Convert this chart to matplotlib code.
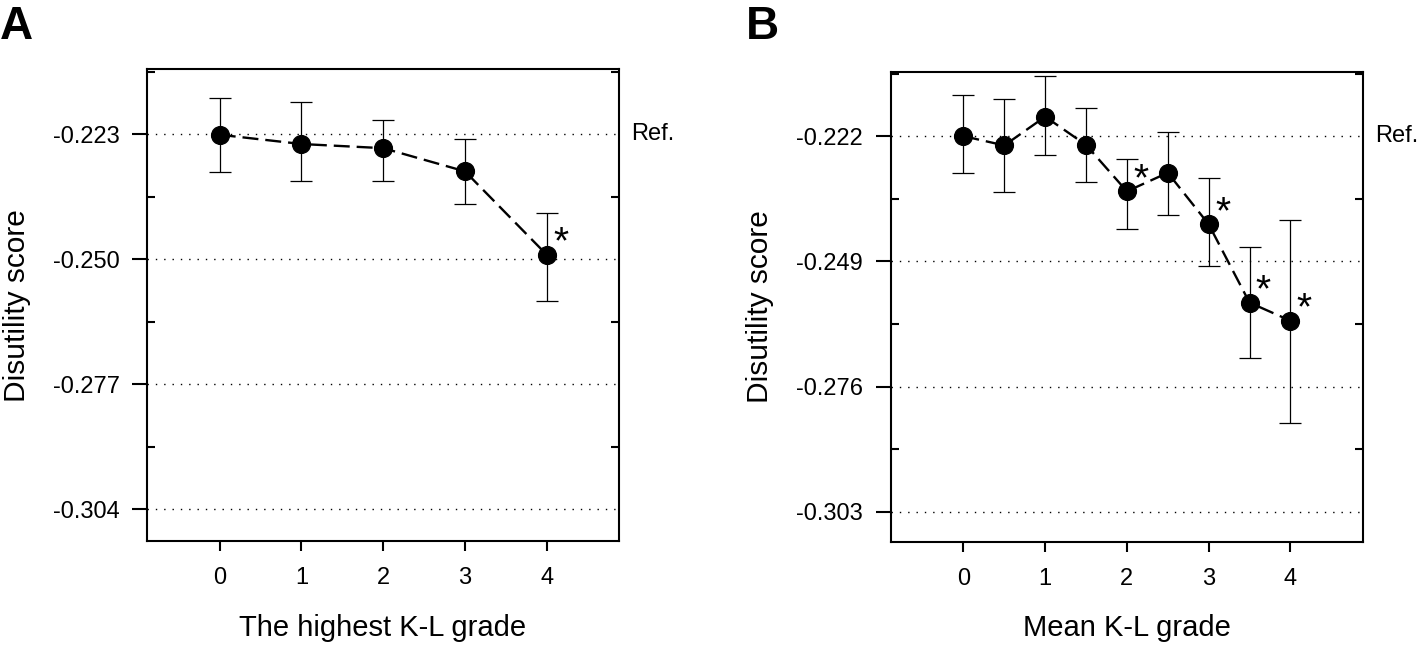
import matplotlib
matplotlib.use("Agg")
import matplotlib.pyplot as plt
from matplotlib import transforms
from matplotlib.ticker import FixedLocator

plt.rcParams['font.family'] = ['Liberation Sans', 'DejaVu Sans']
plt.rcParams['lines.scale_dashes'] = False

# ---------------- data ----------------
a_x = [0, 1, 2, 3, 4]
a_mean = [-0.2231, -0.2251, -0.2260, -0.2310, -0.2490]
a_lo = [-0.2311, -0.2331, -0.2331, -0.2381, -0.2589]
a_hi = [-0.2152, -0.2161, -0.2200, -0.2240, -0.2400]
a_sig = [False, False, False, False, True]
a_yticks = [-0.223, -0.250, -0.277, -0.304]
a_yticklabels = ["-0.223", "-0.250", "-0.277", "-0.304"]
a_yminor = [-0.2095, -0.2365, -0.2635, -0.2905]

b_x = [0, 0.5, 1, 1.5, 2, 2.5, 3, 3.5, 4]
b_mean = [-0.2220, -0.2240, -0.2178, -0.2239, -0.2339, -0.2299, -0.2410, -0.2579, -0.2618]
b_lo = [-0.2300, -0.2341, -0.2260, -0.2319, -0.2420, -0.2389, -0.2500, -0.2699, -0.2839]
b_hi = [-0.2131, -0.2140, -0.2091, -0.2160, -0.2270, -0.2210, -0.2311, -0.2459, -0.2400]
b_sig = [False, False, False, False, True, False, True, True, True]
b_yticks = [-0.222, -0.249, -0.276, -0.303]
b_yticklabels = ["-0.222", "-0.249", "-0.276", "-0.303"]
b_yminor = [-0.2085, -0.2355, -0.2625, -0.2895]

xticks = [0, 1, 2, 3, 4]
xticklabels = ["0", "1", "2", "3", "4"]

W, H = 1418, 645
fig = plt.figure(figsize=(W / 100, H / 100), dpi=100)

def px_axes(left, top, right, bottom):
    return fig.add_axes([left / W, 1 - bottom / H, (right - left) / W, (bottom - top) / H])

axA = px_axes(147, 69, 619, 541.3)
axB = px_axes(890.7, 71.7, 1362.7, 542.3)

def draw_panel(ax, x, mean, lo, hi, sig, yticks, ytl, yminor, ylim, xlabel, letter, letter_x):
    ax.set_xlim(-0.89, 4.885)
    ax.set_ylim(*ylim)
    for v in yticks:
        ax.axhline(v, color='black', lw=1.0, linestyle=(0, (1, 5)), zorder=1)
    yerr = [[m - l for m, l in zip(mean, lo)], [h - m for m, h in zip(mean, hi)]]
    ax.errorbar(x, mean, yerr=yerr, fmt='none', ecolor='black', elinewidth=0.9,
                capsize=7.8, capthick=0.9, zorder=2)
    line, = ax.plot(x, mean, color='black', lw=1.7, zorder=3)
    line.set_dashes((11.5, 5))
    ax.plot(x, mean, 'o', color='black', markersize=12.8, zorder=4)
    for xi, mi, s in zip(x, mean, sig):
        if s:
            ax.annotate('*', xy=(xi, mi), xytext=(10, -5), textcoords='offset points',
                        ha='center', va='bottom', fontsize=28, zorder=5)
    ax.set_xticks(xticks)
    ax.set_xticklabels(xticklabels)
    ax.set_yticks(yticks)
    ax.set_yticklabels(ytl)
    ax.yaxis.set_minor_locator(FixedLocator(yminor))
    ax.tick_params(axis='x', which='major', direction='out', length=7.2, width=1.5,
                   pad=11, labelsize=17)
    ax.tick_params(axis='y', which='major', direction='out', length=10.8, width=1.5,
                   pad=9, labelsize=17, left=True, right=False)
    ax.tick_params(axis='y', which='minor', direction='in', length=5.8, width=1.5,
                   left=True, right=True)
    for sp in ax.spines.values():
        sp.set_linewidth(1.5)
    trans = transforms.blended_transform_factory(ax.transAxes, ax.transData)
    ax.text(1.0 + 12 / 472, yticks[0], 'Ref.', transform=trans, ha='left', va='center',
            fontsize=17)
    ax.set_xlabel(xlabel, fontsize=21, va='baseline')
    ax.xaxis.set_label_coords(0.5, -0.200)
    ax.set_ylabel('Disutility score', fontsize=21.5, va='center')
    ax.yaxis.set_label_coords(-0.276, 0.5)
    fig.text(letter_x / W, 1 - 5 / H, letter, ha='left', va='top', fontsize=33,
             fontweight='bold')

draw_panel(axA, a_x, a_mean, a_lo, a_hi, a_sig, a_yticks, a_yticklabels, a_yminor,
           (-0.3109, -0.2089), 'The highest K-L grade', 'A', 0)
draw_panel(axB, b_x, b_mean, b_lo, b_hi, b_sig, b_yticks, b_yticklabels, b_yminor,
           (-0.3096, -0.2081), 'Mean K-L grade', 'B', 746)

fig.savefig('out.png', dpi=100)
